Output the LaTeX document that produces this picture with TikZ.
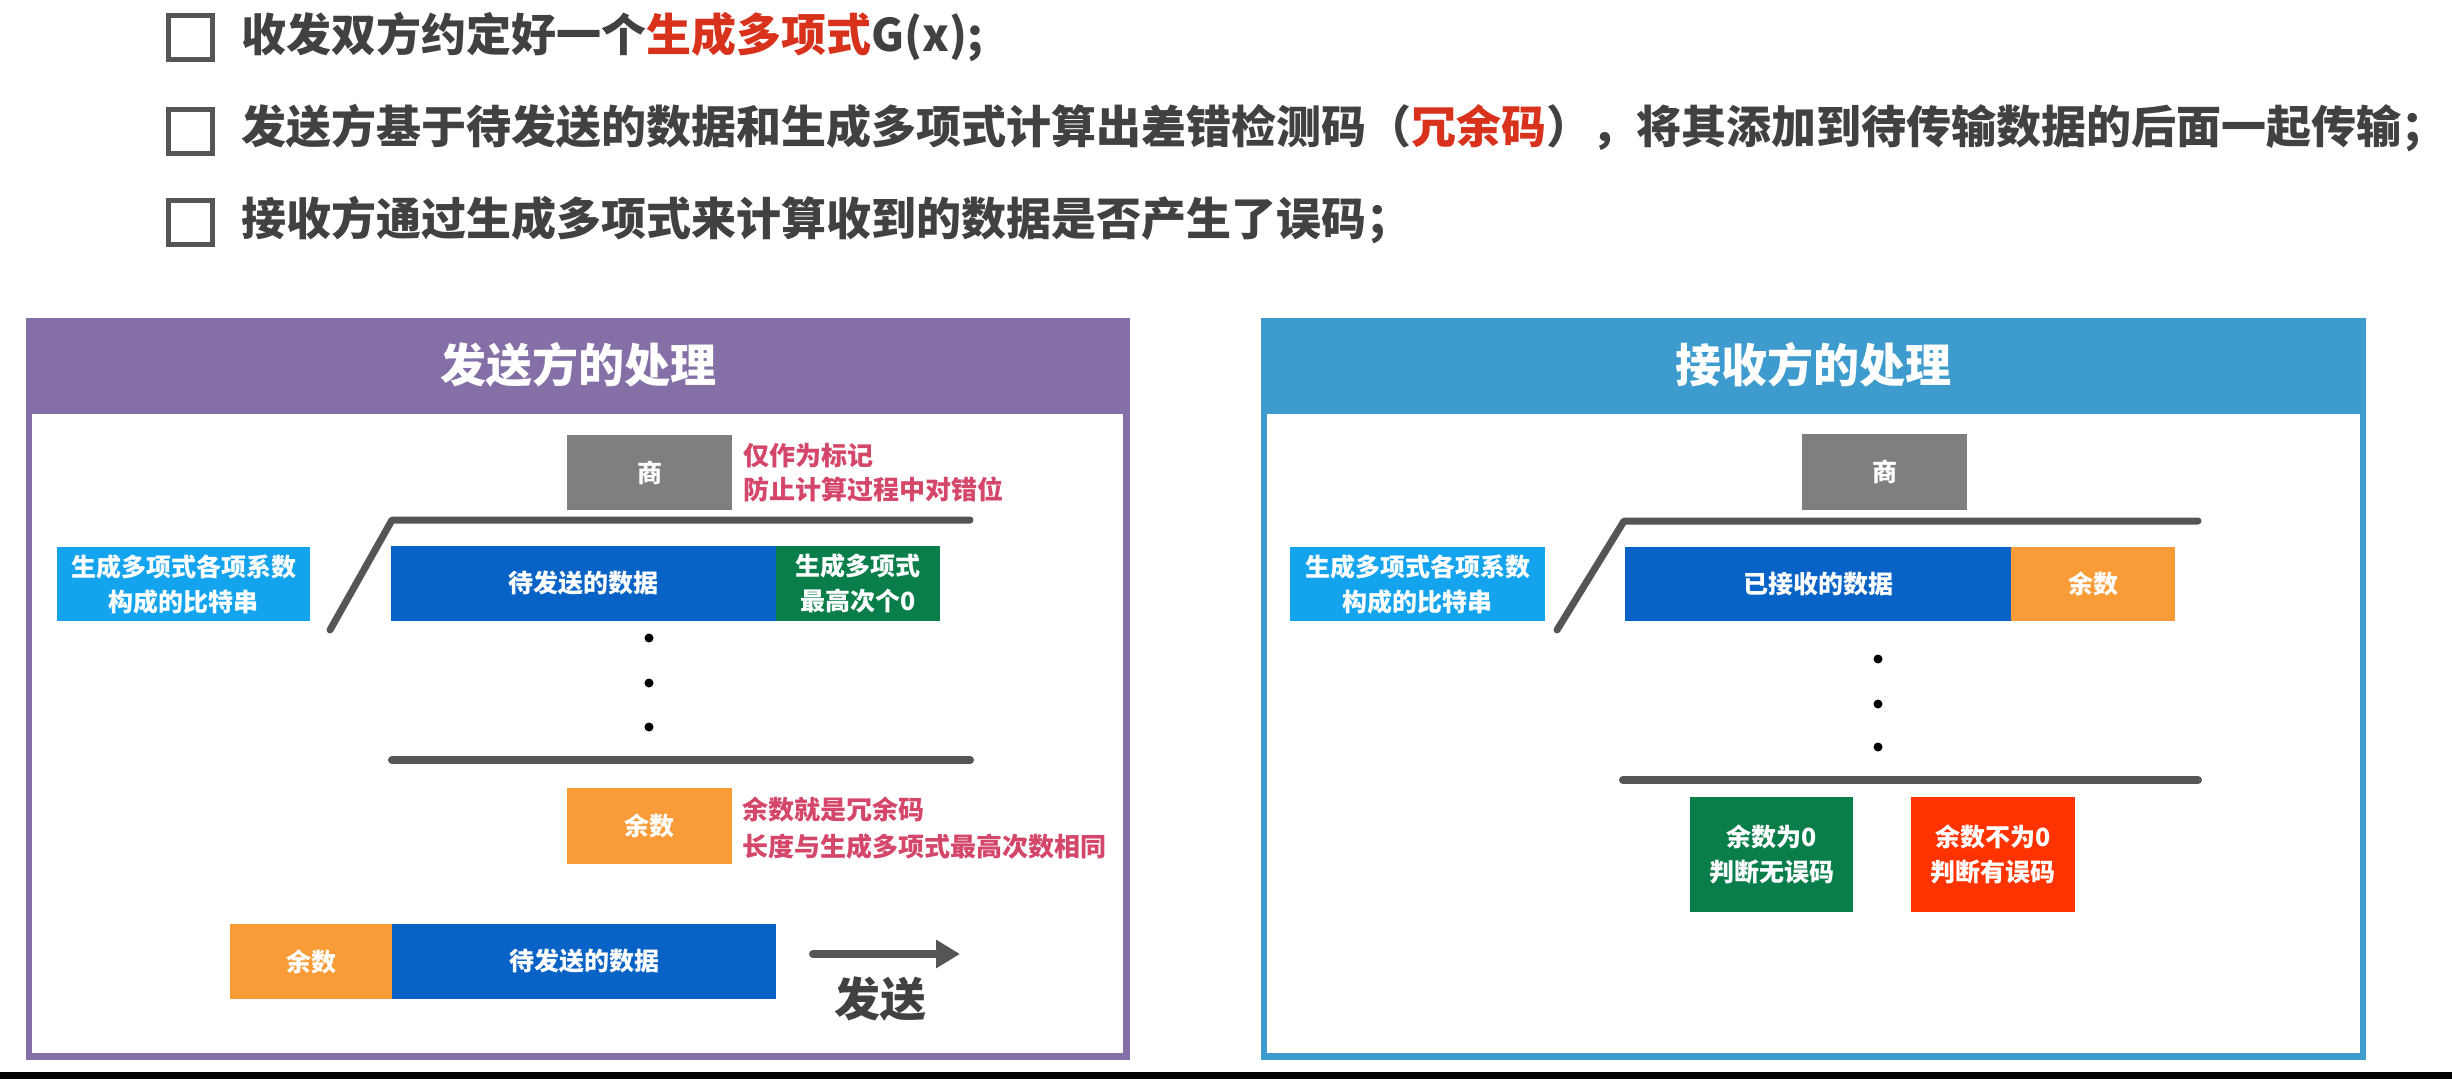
\documentclass[tikz,border=0pt]{standalone}
\usepackage{fontspec}
\setmainfont{Noto Sans CJK SC}
\usetikzlibrary{arrows.meta}
\definecolor{txt}{HTML}{414141}
\definecolor{hot}{HTML}{D9321C}
\definecolor{purp}{HTML}{8470A7}
\definecolor{steel}{HTML}{3E9BCD}
\definecolor{qgray}{HTML}{7F7F7F}
\definecolor{lblue}{HTML}{14A4EE}
\definecolor{dblue}{HTML}{0963C6}
\definecolor{dgreen}{HTML}{0A7E4A}
\definecolor{orng}{HTML}{F99C38}
\definecolor{rred}{HTML}{FF3300}
\definecolor{note}{HTML}{D4466A}
\definecolor{divc}{HTML}{555555}
\tikzset{
  head/.style={anchor=west, inner sep=0pt, text=txt, font=\fontsize{45pt}{50pt}\selectfont\bfseries},
  cbox/.style={draw=divc, line width=5pt, minimum width=44pt, minimum height=44pt, inner sep=0pt},
  title/.style={text=white, inner sep=0pt, font=\fontsize{46pt}{50pt}\selectfont\bfseries},
  blk/.style={rectangle, inner sep=0pt, text=white, align=center, font=\fontsize{25pt}{35pt}\selectfont\bfseries},
  notetext/.style={anchor=west, inner sep=0pt, text=note, align=left, font=\fontsize{26pt}{34pt}\selectfont\bfseries},
  divline/.style={draw=divc, line width=7pt, line cap=round, line join=round},
  dotc/.style={circle, fill=black, inner sep=0pt, minimum size=9pt},
}
\begin{document}
\begin{tikzpicture}[x=1pt, y=-1pt]
\useasboundingbox (0,0) rectangle (2452,1079);
\fill[white] (0,0) rectangle (2452,1079);
\fill[black] (0,1072) rectangle (2452,1079);

% header lines
\node[cbox] (cb1) at (190,37) {};
\node[cbox] (cb2) at (190,131) {};
\node[cbox] (cb3) at (190,222) {};
\node[head] (h1) at (241,37) {收发双方约定好一个\textcolor{hot}{生成多项式}G(x);};
\node[head] (h2) at (241,128) {发送方基于待发送的数据和生成多项式计算出差错检测码（\textcolor{hot}{冗余码}），将其添加到待传输数据的后面一起传输；};
\node[head] (h3) at (241,220) {接收方通过生成多项式来计算收到的数据是否产生了误码；};

% left panel
\fill[purp] (26,318) rectangle (1130,1060);
\fill[white] (32,414) rectangle (1123,1053);
\node[title] (t1) at (578,365) {发送方的处理};

\node[blk, fill=qgray, minimum width=165pt, minimum height=75pt] (q1) at (649.5,472.5) {商};
\node[notetext] (n1) at (743,473) {仅作为标记\\防止计算过程中对错位};
\coordinate (s1a) at (330,630);
\coordinate (s1b) at (392,520);
\coordinate (s1c) at (970,520);
\draw[divline] (s1a) -- (s1b) -- (s1c);
\node[blk, fill=lblue, minimum width=253pt, minimum height=74pt] (g1) at (183.5,584) {生成多项式各项系数\\构成的比特串};
\node[blk, fill=dblue, minimum width=385pt, minimum height=75pt] (d1) at (583.5,583.5) {待发送的数据};
\node[blk, fill=dgreen, minimum width=164pt, minimum height=75pt] (z1) at (858,583.5) {生成多项式\\最高次个0};
\node[dotc] (p1) at (649,638) {};
\node[dotc] (p2) at (649,683) {};
\node[dotc] (p3) at (649,727) {};
\coordinate (b1a) at (392,760);
\coordinate (b1b) at (970,760);
\draw[divline, line width=8pt] (b1a) -- (b1b);
\node[blk, fill=orng, minimum width=165pt, minimum height=76pt] (r1) at (649.5,826) {余数};
\node[notetext, font=\fontsize{26pt}{37pt}\selectfont\bfseries] (n2) at (742,828.5) {余数就是冗余码\\长度与生成多项式最高次数相同};
\node[blk, fill=orng, minimum width=162pt, minimum height=75pt] (r1b) at (311,961.5) {余数};
\node[blk, fill=dblue, minimum width=384pt, minimum height=75pt] (d1b) at (584,961.5) {待发送的数据};
\coordinate (ar1) at (813,954);
\coordinate (ar2) at (960,954);
\draw[draw=divc, line width=8pt, line cap=round, -{Triangle[length=24pt, width=27pt]}] (ar1) -- (ar2);
\node[title, text=txt] (snd) at (880,999) {发送};

% right panel
\fill[steel] (1261,318) rectangle (2366,1060);
\fill[white] (1267,414) rectangle (2360,1053);
\node[title] (t2) at (1813,365) {接收方的处理};

\node[blk, fill=qgray, minimum width=165pt, minimum height=76pt] (q2) at (1884.5,472) {商};
\coordinate (s2a) at (1557,630);
\coordinate (s2b) at (1624,521);
\coordinate (s2c) at (2198,521);
\draw[divline] (s2a) -- (s2b) -- (s2c);
\node[blk, fill=lblue, minimum width=255pt, minimum height=74pt] (g2) at (1417.5,584) {生成多项式各项系数\\构成的比特串};
\node[blk, fill=dblue, minimum width=386pt, minimum height=74pt] (d2) at (1818,584) {已接收的数据};
\node[blk, fill=orng, minimum width=164pt, minimum height=74pt] (r2) at (2093,584) {余数};
\node[dotc] (p4) at (1878,659) {};
\node[dotc] (p5) at (1878,704) {};
\node[dotc] (p6) at (1878,747) {};
\coordinate (b2a) at (1623,780);
\coordinate (b2b) at (2198,780);
\draw[divline, line width=8pt] (b2a) -- (b2b);
\node[blk, fill=dgreen, minimum width=163pt, minimum height=115pt] (ok) at (1771.5,854.5) {余数为0\\判断无误码};
\node[blk, fill=rred, minimum width=164pt, minimum height=115pt] (er) at (1993,854.5) {余数不为0\\判断有误码};
\end{tikzpicture}
\end{document}
